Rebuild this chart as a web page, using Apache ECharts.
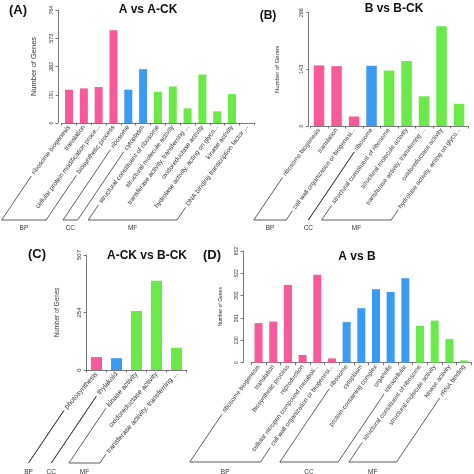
<!DOCTYPE html>
<html><head><meta charset="utf-8">
<script src="https://cdn.jsdelivr.net/npm/echarts@6/dist/echarts.min.js"></script>
<style>html,body{margin:0;padding:0;background:#fff}#c{width:474px;height:474px}</style>
</head><body><div id="c"></div>
<script>
const FONT = 'Liberation Sans';
const groupColors = {BP:'#F7599B', CC:'#3B9BF2', MF:'#69EA48'};

// Panel A: A vs A-CK
const categoriesA = ['ribosome biogenesis','translation','cellular protein modification proce...','biosynthetic process','ribosome','cytoplasm','structural constituent of ribosome','structural molecule activity','transferase activity, transferring ...','oxidoreductase activity','hydrolase activity, acting on glyco...','kinase activity','DNA binding transcription factor ...'];
const groupsA = ['BP','BP','BP','BP','CC','CC','MF','MF','MF','MF','MF','MF','MF'];
const valuesA = [225,234,243,627,225,364,211,247,99,328,79,195,null];
const yTicksA = ['0','191','382','573','764'];

// Panel B: B vs B-CK
const categoriesB = ['ribosome biogenesis','translation','cell wall organization or biogenesi...','ribosome','structural constituent of ribosome','structural molecule activity','transferase activity, transferring ...','oxidoreductase activity','hydrolase activity, acting on glyco...'];
const groupsB = ['BP','BP','BP','CC','MF','MF','MF','MF','MF'];
const valuesB = [153,151,24,152,140,164,75,252,56];
const yTicksB = ['0','143','286'];

// Panel C: A-CK vs B-CK
const categoriesC = ['photosynthesis','thylakoid','kinase activity','oxidoreductase activity','transferase activity, transferring ...'];
const groupsC = ['BP','CC','MF','MF','MF'];
const valuesC = [57,52,260,394,98];
const yTicksC = ['0','254','507'];

// Panel D: A vs B
const categoriesD = ['ribosome biogenesis','translation','biosynthetic process','reproduction','cellular nitrogen compound metaboli...','cell wall organization or biogenesi...','ribosome','cytoplasm','protein-containing complex','organelle','intracellular','structural constituent of ribosome','structural molecule activity','kinase activity','rRNA binding'];
const groupsD = ['BP','BP','BP','BP','BP','BP','CC','CC','CC','CC','CC','MF','MF','MF','MF'];
const valuesD = [231,240,454,45,514,25,237,318,429,413,493,215,246,138,13];
const yTicksD = ['0','130','261','392','522','652'];

const panels = [
  {title:'A vs A-CK', tag:'(A)', cats:categoriesA, grps:groupsA, vals:valuesA, ticks:yTicksA,
   L:{left:61.6, top:10, bottom:123, band:14.82, yOff:3.6, barW:8, labelFont:6.5, tickFont:5.5, nameFont:7.5, nameGap:20, rot:53, lineAng:56, base:220, nameY:228, titleX:148, titleY:9.5, tagX:18, tagY:10, tagSize:13}},
  {title:'B vs B-CK', tag:'(B)', cats:categoriesB, grps:groupsB, vals:valuesB, ticks:yTicksB,
   L:{left:310.3, top:12.7, bottom:126, band:17.5, yOff:1.6, barW:10.5, labelFont:6.3, tickFont:5.5, nameFont:6, nameGap:28, rot:53, lineAng:56, base:220, nameY:228, titleX:394, titleY:9, tagX:268, tagY:16, tagSize:12}},
  {title:'A-CK vs B-CK', tag:'(C)', cats:categoriesC, grps:groupsC, vals:valuesC, ticks:yTicksC,
   L:{left:86.5, top:255, bottom:370, band:20, yOff:0.5, barW:11, labelFont:7, tickFont:6, nameFont:6.3, nameGap:26, rot:49, lineAng:56, base:463, nameY:472, titleX:147, titleY:256, tagX:37, tagY:254, tagSize:13}},
  {title:'A vs B', tag:'(D)', cats:categoriesD, grps:groupsD, vals:valuesD, ticks:yTicksD,
   L:{left:251.2, top:251, bottom:362.7, band:14.68, yOff:8.2, barW:8, labelFont:6.3, tickFont:5, nameFont:5, nameGap:20, rot:53, lineAng:56, base:462, nameY:472, titleX:357, titleY:257, tagX:212, tagY:255, tagSize:13}}
];

const axisColor = '#555';
const option = {
  animation:false,
  textStyle:{fontFamily:FONT},
  grid:[], xAxis:[], yAxis:[], series:[]
};
panels.forEach((p,i)=>{
  const L = p.L;
  const max = Number(p.ticks[p.ticks.length-1]);
  const interval = max/(p.ticks.length-1);
  option.grid.push({left:L.left, top:L.top, width:L.band*p.cats.length, height:L.bottom-L.top, containLabel:false});
  option.xAxis.push({type:'category', gridIndex:i, data:p.cats,
    axisLine:{lineStyle:{color:axisColor, width:0.8}},
    axisTick:{show:true, length:2.5, lineStyle:{color:axisColor, width:0.8}},
    axisLabel:{interval:0, rotate:L.rot, fontSize:L.labelFont, margin:3, color:'#333', fontFamily:FONT}});
  option.yAxis.push({type:'value', gridIndex:i, min:0, max:max, interval:interval, offset:L.yOff,
    axisLine:{show:true, lineStyle:{color:axisColor, width:0.8}},
    axisTick:{show:true, length:2.5, lineStyle:{color:axisColor, width:0.8}},
    splitLine:{show:false},
    axisLabel:{rotate:90, fontSize:L.tickFont, margin:4, color:'#333', fontFamily:FONT,
      formatter:(v)=>p.ticks[Math.round(v/interval)]},
    name:'Number of Genes', nameLocation:'middle', nameGap:L.nameGap, nameRotate:90,
    nameTextStyle:{fontSize:L.nameFont, color:'#333', fontFamily:FONT}});
  option.series.push({type:'bar', xAxisIndex:i, yAxisIndex:i, barWidth:L.barW,
    data:p.vals.map((v,j)=>({value:v, itemStyle:{color:groupColors[p.grps[j]]}}))});
});

const chart = echarts.init(document.getElementById('c'), null, {renderer:'canvas'});
chart.setOption(option);

const mctx = document.createElement('canvas').getContext('2d');
function tw(text, size){ mctx.font = size+'px "'+FONT+'"'; return mctx.measureText(text).width; }

const gfx = [];
panels.forEach((p,i)=>{
  const L = p.L;
  gfx.push({type:'text', x:L.titleX, y:L.titleY, silent:true,
    style:{text:p.title, font:'bold 12px "'+FONT+'"', fill:'#111', textAlign:'center', textVerticalAlign:'middle'}});
  gfx.push({type:'text', x:L.tagX, y:L.tagY, silent:true,
    style:{text:p.tag, font:'bold '+L.tagSize+'px "'+FONT+'"', fill:'#111', textAlign:'center', textVerticalAlign:'middle'}});
  const r = L.rot*Math.PI/180, phi = L.lineAng*Math.PI/180;
  const startPt = j => {
    const tx = chart.convertToPixel({xAxisIndex:i}, j);
    const w = tw(p.cats[j], L.labelFont) + 3;
    const ay = L.bottom + 3;
    return [tx - w*Math.cos(r), ay + w*Math.sin(r)];
  };
  const toBase = s => { const t=(L.base - s[1])/Math.sin(phi); return [s[0]-t*Math.cos(phi), L.base]; };
  const runs = [];
  p.grps.forEach((g,j)=>{
    if(!runs.length || runs[runs.length-1].g!==g) runs.push({g, first:j, last:j});
    else runs[runs.length-1].last=j;
  });
  runs.forEach(o=>{
    const s1=startPt(o.first), s2=startPt(o.last);
    const b1=toBase(s1), b2=toBase(s2);
    gfx.push({type:'polyline', silent:true, shape:{points:[s1,b1,b2,s2]}, style:{stroke:'#333', fill:'none', lineWidth:0.8}});
    gfx.push({type:'text', silent:true, x:(b1[0]+b2[0])/2, y:L.nameY,
      style:{text:o.g, font:'6.5px "'+FONT+'"', fill:'#333', textAlign:'center', textVerticalAlign:'middle'}});
  });
});
chart.setOption({graphic:gfx});
</script></body></html>
